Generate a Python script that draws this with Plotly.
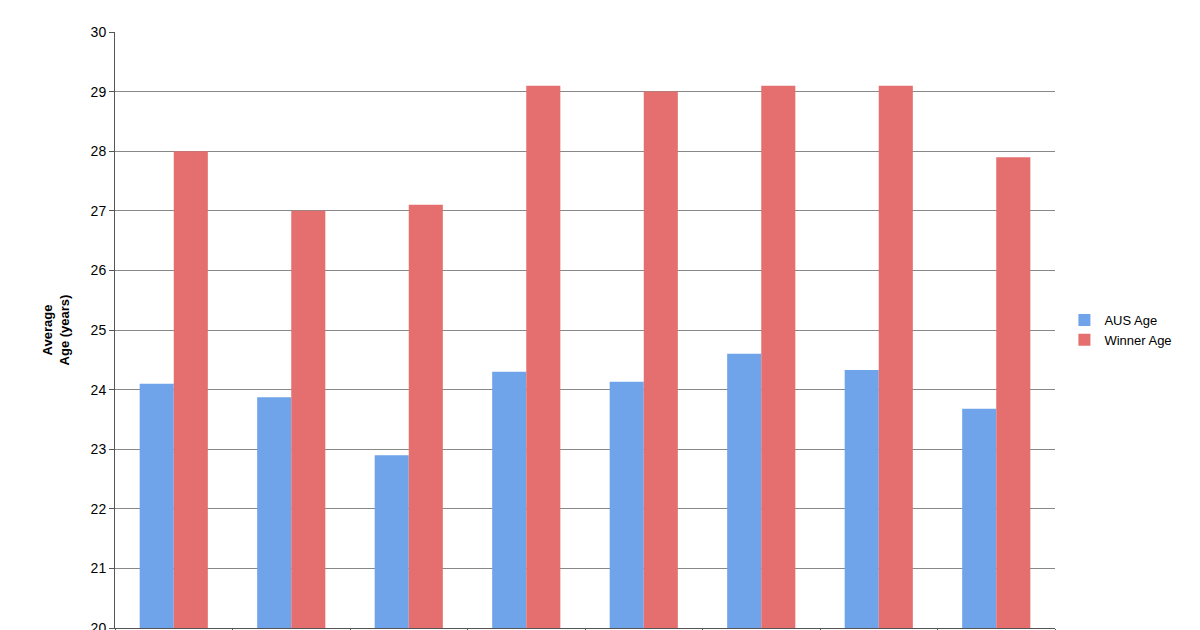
import plotly.graph_objects as go

groups = [1, 2, 3, 4, 5, 6, 7, 8]
aus_age = [24.1, 23.87, 22.9, 24.3, 24.13, 24.6, 24.33, 23.68]
winner_age = [28.0, 27.0, 27.1, 29.1, 29.0, 29.1, 29.1, 27.9]

fig = go.Figure()
fig.add_trace(go.Bar(x=groups, y=[v - 20 for v in aus_age], base=20, name="AUS Age",
                     marker=dict(color="#6fa3ea", line=dict(width=0))))
fig.add_trace(go.Bar(x=groups, y=[v - 20 for v in winner_age], base=20, name="Winner Age",
                     marker=dict(color="#e56f6f", line=dict(width=0))))

fig.update_layout(
    width=1200, height=630, paper_bgcolor="white", plot_bgcolor="white",
    margin=dict(l=107, r=153, t=24, b=10, autoexpand=False),
    barmode="group", bargap=0.42, bargroupgap=0,
    font=dict(family="Liberation Sans, Arial", size=14, color="black"),
    legend=dict(x=1.01, y=0.5, yanchor="middle", xanchor="left",
                font=dict(size=13), tracegroupgap=18, itemwidth=30),
    showlegend=True,
    xaxis=dict(range=[0.5, 8.5], tickvals=[0.5 + i for i in range(9)], automargin=False,
               showticklabels=False, ticks="outside", ticklen=10,
               tickcolor="#555", showline=True, linecolor="#555", showgrid=False,
               zeroline=False),
    yaxis=dict(range=[20, 30], dtick=1, showgrid=True, gridcolor="#888", automargin=False,
               showline=True, linecolor="#555", ticks="outside", ticklen=5,
               tickcolor="#555", zeroline=False,
               title=dict(text="<b>Average<br>Age (years)</b>", font=dict(size=13), standoff=18)),
)
fig.write_html("out.html")
